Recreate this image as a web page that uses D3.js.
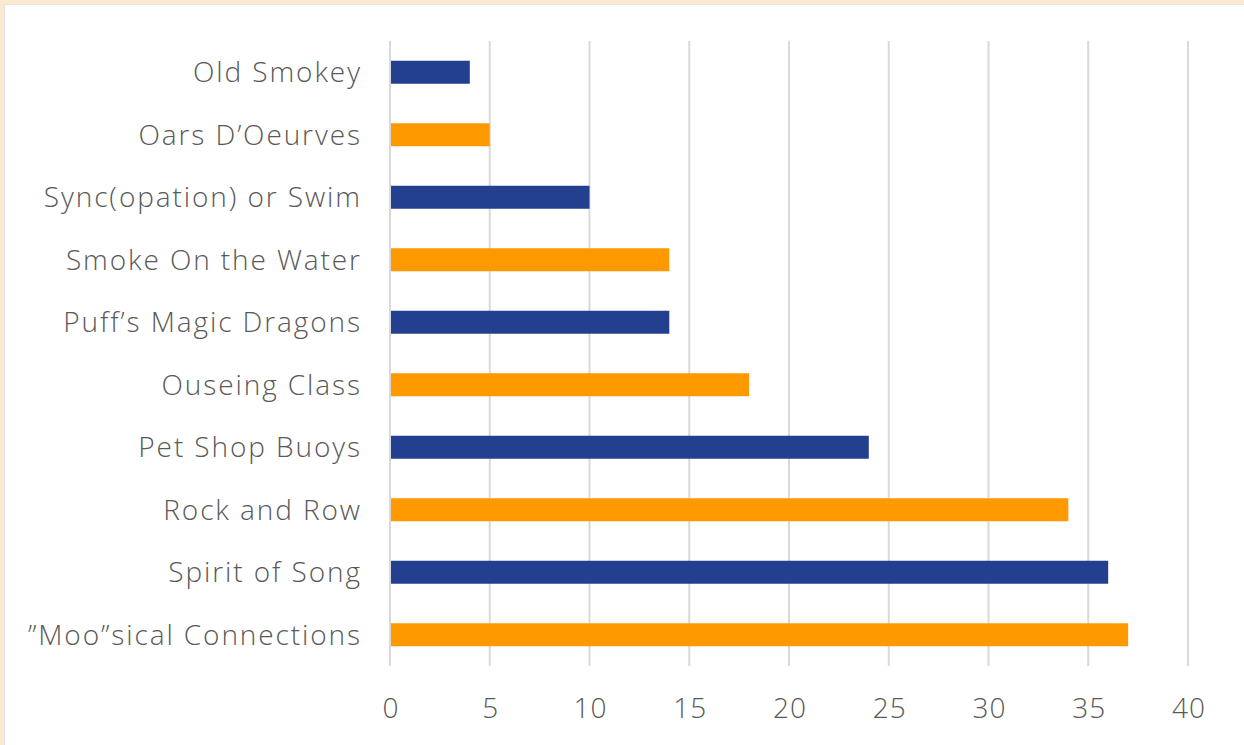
<!DOCTYPE html>
<html>
<head>
<meta charset="utf-8">
<script src="https://cdn.jsdelivr.net/npm/d3@7"></script>
<style>
  html, body { margin: 0; padding: 0; background: #fde9cf; }
  svg { display: block; }
  text { font-family: "Open Sans", "Lato", sans-serif; font-weight: 300; fill: #595959; }
</style>
</head>
<body>
<svg id="chart" width="1244" height="745"></svg>
<script>
const categories = ["Old Smokey", "Oars D\u2019Oeurves", "Sync(opation) or Swim", "Smoke On the Water",
  "Puff\u2019s Magic Dragons", "Ouseing Class", "Pet Shop Buoys", "Rock and Row", "Spirit of Song",
  "\u201DMoo\u201Dsical Connections"];
const values = [4, 5, 10, 14, 14, 18, 24, 34, 36, 37];
const barColors = ["#233f8f", "#ff9900"];
const tickValues = [0, 5, 10, 15, 20, 25, 30, 35, 40];

const svg = d3.select("#chart");
// card
svg.append("rect").attr("x", 4.5).attr("y", 4.5).attr("width", 1244).attr("height", 760)
  .attr("fill", "#ffffff").attr("stroke", "#e3e3e3").attr("stroke-width", 1);

const x = d3.scaleLinear().domain([0, 40]).range([390, 1188]);
const y = d3.scaleBand().domain(categories).range([41, 666]).paddingInner(0.632).paddingOuter(0.316);

// gridlines
svg.append("g").selectAll("line").data(tickValues).join("line")
  .attr("x1", d => x(d)).attr("x2", d => x(d))
  .attr("y1", 41).attr("y2", 666)
  .attr("stroke", "#d9d9d9").attr("stroke-width", 2);

// bars
svg.append("g").selectAll("rect").data(values).join("rect")
  .attr("x", x(0) + 1)
  .attr("y", (d, i) => y(categories[i]))
  .attr("width", d => x(d) - x(0) - 1)
  .attr("height", y.bandwidth())
  .attr("fill", (d, i) => barColors[i % 2]);

// x axis
const xAxis = d3.axisBottom(x).tickValues(tickValues).tickSize(0).tickPadding(0);
const gx = svg.append("g").attr("transform", "translate(0,666)").call(xAxis);
gx.select(".domain").remove();
gx.selectAll("text").attr("dy", null).attr("y", 52).attr("dx", "0.6px")
  .style("font-size", "28px").style("fill", "#595959")
  .style("font-family", "'Open Sans', Lato, sans-serif").style("font-weight", 300)
  .style("letter-spacing", "1.2px");

// y axis
const yAxis = d3.axisLeft(y).tickSize(0).tickPadding(30);
const gy = svg.append("g").attr("transform", "translate(390,0)").call(yAxis);
gy.select(".domain").remove();
gy.selectAll("text").attr("dy", "0.35em").attr("dx", "1.9px").style("font-size", "28px").style("fill", "#595959")
  .style("font-family", "'Open Sans', Lato, sans-serif").style("font-weight", 300)
  .style("letter-spacing", "1.9px");
</script>
</body>
</html>
